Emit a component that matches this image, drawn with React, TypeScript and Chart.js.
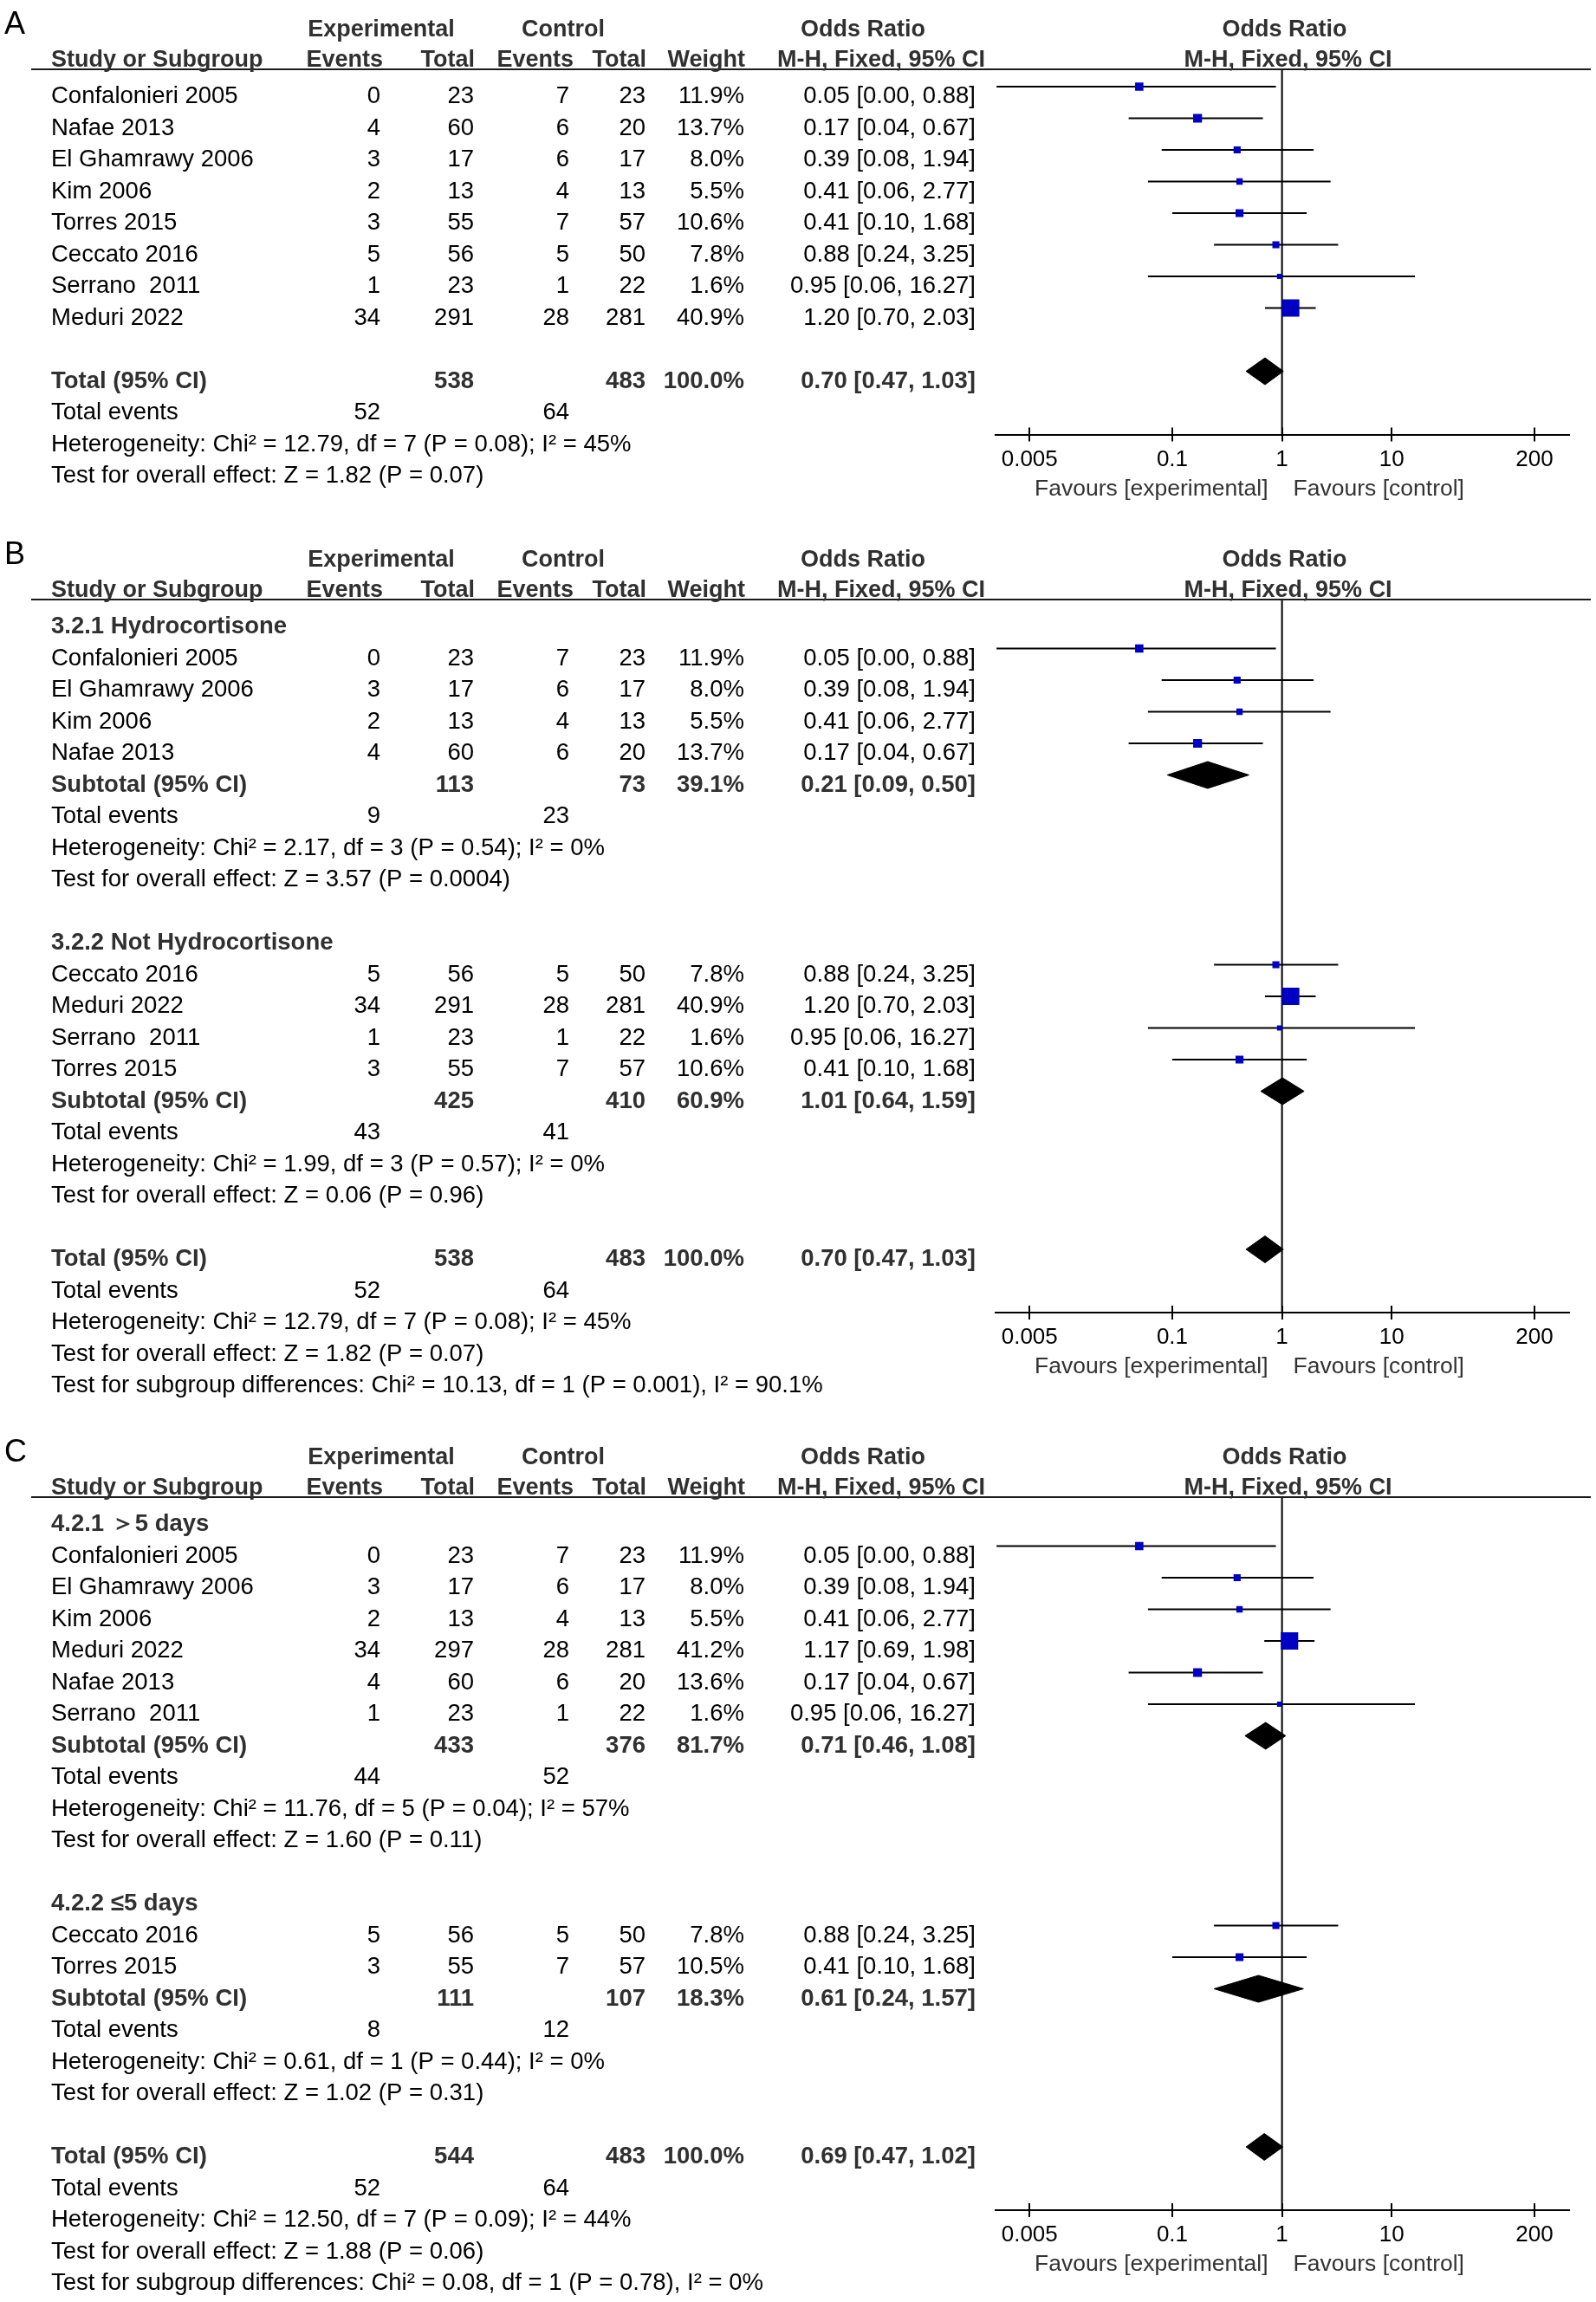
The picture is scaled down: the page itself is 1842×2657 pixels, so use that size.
import React, { useEffect, useRef } from 'react';
import { Chart, registerables } from 'chart.js';
Chart.register(...registerables);

// ---------------- shared axis ----------------
const X_TICKS = [0.005, 0.1, 1, 10, 200];
const X_MIN = 0.002427;
const X_MAX = 412;
const FAVOURS = ['Favours [experimental]', 'Favours [control]'];

// ---------------- Panel A ----------------
const A_STUDY = ['Confalonieri 2005', 'Nafae 2013', 'El Ghamrawy 2006', 'Kim 2006', 'Torres 2015', 'Ceccato 2016', 'Serrano  2011', 'Meduri 2022'];
const A_EXP_EVENTS = [0, 4, 3, 2, 3, 5, 1, 34];
const A_EXP_TOTAL = [23, 60, 17, 13, 55, 56, 23, 291];
const A_CTL_EVENTS = [7, 6, 6, 4, 7, 5, 1, 28];
const A_CTL_TOTAL = [23, 20, 17, 13, 57, 50, 22, 281];
const A_WEIGHT = [11.9, 13.7, 8.0, 5.5, 10.6, 7.8, 1.6, 40.9];
const A_OR = [0.05, 0.17, 0.39, 0.41, 0.41, 0.88, 0.95, 1.2];
const A_LO = [0.0025, 0.04, 0.08, 0.06, 0.1, 0.24, 0.06, 0.7];
const A_HI = [0.88, 0.67, 1.94, 2.77, 1.68, 3.25, 16.27, 2.03];
const A_TOTAL_N = [538, 483];
const A_TOTAL_CI = [0.7, 0.47, 1.03];
const A_TOTAL_EVENTS = [52, 64];
const A_NOTES = ['Heterogeneity: Chi² = 12.79, df = 7 (P = 0.08); I² = 45%', 'Test for overall effect: Z = 1.82 (P = 0.07)'];

// ---------------- Panel B ----------------
const B_GROUP = ['3.2.1 Hydrocortisone', '3.2.2 Not Hydrocortisone'];
const B_STUDY = [['Confalonieri 2005', 'El Ghamrawy 2006', 'Kim 2006', 'Nafae 2013'], ['Ceccato 2016', 'Meduri 2022', 'Serrano  2011', 'Torres 2015']];
const B_EXP_EVENTS = [[0, 3, 2, 4], [5, 34, 1, 3]];
const B_EXP_TOTAL = [[23, 17, 13, 60], [56, 291, 23, 55]];
const B_CTL_EVENTS = [[7, 6, 4, 6], [5, 28, 1, 7]];
const B_CTL_TOTAL = [[23, 17, 13, 20], [50, 281, 22, 57]];
const B_WEIGHT = [[11.9, 8.0, 5.5, 13.7], [7.8, 40.9, 1.6, 10.6]];
const B_OR = [[0.05, 0.39, 0.41, 0.17], [0.88, 1.2, 0.95, 0.41]];
const B_LO = [[0.0025, 0.08, 0.06, 0.04], [0.24, 0.7, 0.06, 0.1]];
const B_HI = [[0.88, 1.94, 2.77, 0.67], [3.25, 2.03, 16.27, 1.68]];
const B_SUB_N = [[113, 73], [425, 410]];
const B_SUB_WEIGHT = [39.1, 60.9];
const B_SUB_CI = [[0.21, 0.09, 0.5], [1.01, 0.64, 1.59]];
const B_SUB_EVENTS = [[9, 23], [43, 41]];
const B_SUB_NOTES = [
  ['Heterogeneity: Chi² = 2.17, df = 3 (P = 0.54); I² = 0%', 'Test for overall effect: Z = 3.57 (P = 0.0004)'],
  ['Heterogeneity: Chi² = 1.99, df = 3 (P = 0.57); I² = 0%', 'Test for overall effect: Z = 0.06 (P = 0.96)'],
];
const B_TOTAL_N = [538, 483];
const B_TOTAL_CI = [0.7, 0.47, 1.03];
const B_TOTAL_EVENTS = [52, 64];
const B_NOTES = ['Heterogeneity: Chi² = 12.79, df = 7 (P = 0.08); I² = 45%', 'Test for overall effect: Z = 1.82 (P = 0.07)', 'Test for subgroup differences: Chi² = 10.13, df = 1 (P = 0.001), I² = 90.1%'];

// ---------------- Panel C ----------------
const C_GROUP = ['4.2.1 ＞5 days', '4.2.2 ≤5 days'];
const C_STUDY = [['Confalonieri 2005', 'El Ghamrawy 2006', 'Kim 2006', 'Meduri 2022', 'Nafae 2013', 'Serrano  2011'], ['Ceccato 2016', 'Torres 2015']];
const C_EXP_EVENTS = [[0, 3, 2, 34, 4, 1], [5, 3]];
const C_EXP_TOTAL = [[23, 17, 13, 297, 60, 23], [56, 55]];
const C_CTL_EVENTS = [[7, 6, 4, 28, 6, 1], [5, 7]];
const C_CTL_TOTAL = [[23, 17, 13, 281, 20, 22], [50, 57]];
const C_WEIGHT = [[11.9, 8.0, 5.5, 41.2, 13.6, 1.6], [7.8, 10.5]];
const C_OR = [[0.05, 0.39, 0.41, 1.17, 0.17, 0.95], [0.88, 0.41]];
const C_LO = [[0.0025, 0.08, 0.06, 0.69, 0.04, 0.06], [0.24, 0.1]];
const C_HI = [[0.88, 1.94, 2.77, 1.98, 0.67, 16.27], [3.25, 1.68]];
const C_SUB_N = [[433, 376], [111, 107]];
const C_SUB_WEIGHT = [81.7, 18.3];
const C_SUB_CI = [[0.71, 0.46, 1.08], [0.61, 0.24, 1.57]];
const C_SUB_EVENTS = [[44, 52], [8, 12]];
const C_SUB_NOTES = [
  ['Heterogeneity: Chi² = 11.76, df = 5 (P = 0.04); I² = 57%', 'Test for overall effect: Z = 1.60 (P = 0.11)'],
  ['Heterogeneity: Chi² = 0.61, df = 1 (P = 0.44); I² = 0%', 'Test for overall effect: Z = 1.02 (P = 0.31)'],
];
const C_TOTAL_N = [544, 483];
const C_TOTAL_CI = [0.69, 0.47, 1.02];
const C_TOTAL_EVENTS = [52, 64];
const C_NOTES = ['Heterogeneity: Chi² = 12.50, df = 7 (P = 0.09); I² = 44%', 'Test for overall effect: Z = 1.88 (P = 0.06)', 'Test for subgroup differences: Chi² = 0.08, df = 1 (P = 0.78), I² = 0%'];

// ---------------- layout / style ----------------
const FONT = '"Liberation Sans", Arial, Helvetica, sans-serif';
const FS = 27.5;
const BOLD_COLOR = '#303030';
const BLUE = '#0000c4';
const PAGE_W = 1842;
const ROW_PX = 36.5;
const HEADER_Y = 80;
const FIRST_ROW_Y = 100;
const Y_MIN = (HEADER_Y - FIRST_ROW_Y) / ROW_PX;
const X_AXIS_H = 60;
const PLOT_LEFT = 1148.5;
const PLOT_RIGHT = 1810.7;
const DIAMOND_H = 0.425;

type Row = {
  kind: 'heading' | 'study' | 'summary' | 'events' | 'note' | 'blank';
  label?: string;
  ee?: number; et?: number; ce?: number; ct?: number; w?: number;
  or?: number; lo?: number; hi?: number;
};

function studyRows(names: string[], ee: number[], et: number[], ce: number[], ct: number[], w: number[], or: number[], lo: number[], hi: number[]): Row[] {
  return names.map((n, i) => ({ kind: 'study', label: n, ee: ee[i], et: et[i], ce: ce[i], ct: ct[i], w: w[i], or: or[i], lo: lo[i], hi: hi[i] }));
}

function summaryRow(label: string, n: number[], w: number, ci: number[]): Row {
  return { kind: 'summary', label, et: n[0], ct: n[1], w, or: ci[0], lo: ci[1], hi: ci[2] };
}

function buildA(): Row[] {
  return [
    ...studyRows(A_STUDY, A_EXP_EVENTS, A_EXP_TOTAL, A_CTL_EVENTS, A_CTL_TOTAL, A_WEIGHT, A_OR, A_LO, A_HI),
    { kind: 'blank' },
    summaryRow('Total (95% CI)', A_TOTAL_N, 100, A_TOTAL_CI),
    { kind: 'events', ee: A_TOTAL_EVENTS[0], ce: A_TOTAL_EVENTS[1] },
    ...A_NOTES.map((t) => ({ kind: 'note', label: t } as Row)),
  ];
}

function buildGrouped(groups: string[], study: string[][], ee: number[][], et: number[][], ce: number[][], ct: number[][], w: number[][], or: number[][], lo: number[][], hi: number[][],
  subN: number[][], subW: number[], subCI: number[][], subEv: number[][], subNotes: string[][], totN: number[], totCI: number[], totEv: number[], notes: string[]): Row[] {
  const rows: Row[] = [];
  groups.forEach((g, gi) => {
    rows.push({ kind: 'heading', label: g });
    rows.push(...studyRows(study[gi], ee[gi], et[gi], ce[gi], ct[gi], w[gi], or[gi], lo[gi], hi[gi]));
    rows.push(summaryRow('Subtotal (95% CI)', subN[gi], subW[gi], subCI[gi]));
    rows.push({ kind: 'events', ee: subEv[gi][0], ce: subEv[gi][1] });
    subNotes[gi].forEach((t) => rows.push({ kind: 'note', label: t }));
    rows.push({ kind: 'blank' });
  });
  rows.push(summaryRow('Total (95% CI)', totN, 100, totCI));
  rows.push({ kind: 'events', ee: totEv[0], ce: totEv[1] });
  notes.forEach((t) => rows.push({ kind: 'note', label: t }));
  return rows;
}

type Panel = { letter: string; height: number; yMax: number; rows: Row[] };

const PANELS: Panel[] = [
  { letter: 'A', height: 612, yMax: 11, rows: buildA() },
  {
    letter: 'B', height: 1036, yMax: 22,
    rows: buildGrouped(B_GROUP, B_STUDY, B_EXP_EVENTS, B_EXP_TOTAL, B_CTL_EVENTS, B_CTL_TOTAL, B_WEIGHT, B_OR, B_LO, B_HI,
      B_SUB_N, B_SUB_WEIGHT, B_SUB_CI, B_SUB_EVENTS, B_SUB_NOTES, B_TOTAL_N, B_TOTAL_CI, B_TOTAL_EVENTS, B_NOTES),
  },
  {
    letter: 'C', height: 1009, yMax: 22,
    rows: buildGrouped(C_GROUP, C_STUDY, C_EXP_EVENTS, C_EXP_TOTAL, C_CTL_EVENTS, C_CTL_TOTAL, C_WEIGHT, C_OR, C_LO, C_HI,
      C_SUB_N, C_SUB_WEIGHT, C_SUB_CI, C_SUB_EVENTS, C_SUB_NOTES, C_TOTAL_N, C_TOTAL_CI, C_TOTAL_EVENTS, C_NOTES),
  },
];

const f2 = (v: number) => v.toFixed(2);
const ciText = (r: Row) => `${f2(r.or!)} [${f2(r.lo!)}, ${f2(r.hi!)}]`;
const squareSide = (w: number) => 5.3 + 0.36 * w;

// column anchors (px)
const COL = { study: 59, ee: 439, et: 547, ce: 657, ct: 745, w: 859, ci: 1126 };

function makePlugin(panel: Panel) {
  return {
    id: 'forestTable' + panel.letter,
    afterDraw(chart: any) {
      const ctx: CanvasRenderingContext2D = chart.ctx;
      const xs = chart.scales.x;
      const ys = chart.scales.y;
      const area = chart.chartArea;
      const one = xs.getPixelForValue(1);
      ctx.save();
      ctx.textBaseline = 'alphabetic';
      const txt = (s: string, x: number, y: number, align: CanvasTextAlign, bold = false, size = FS, color?: string) => {
        ctx.font = `${bold ? 'bold ' : ''}${size}px ${FONT}`;
        ctx.fillStyle = color || (bold ? BOLD_COLOR : '#000');
        ctx.textAlign = align;
        ctx.fillText(s, x, y);
      };

      // header rule
      ctx.strokeStyle = '#1a1a1a';
      ctx.lineWidth = 2;
      ctx.beginPath();
      ctx.moveTo(36, area.top);
      ctx.lineTo(1836, area.top);
      ctx.stroke();

      // upper half of axis tick marks
      ctx.strokeStyle = '#000';
      const axisY = area.bottom;
      xs.ticks.forEach((t: any) => {
        const px = Math.round(xs.getPixelForValue(t.value));
        ctx.beginPath();
        ctx.moveTo(px, axisY - 8);
        ctx.lineTo(px, axisY);
        ctx.stroke();
      });

      // panel letter
      txt(panel.letter, 5, 39, 'left', false, 36, '#000');

      // headers
      txt('Experimental', 440, 42, 'center', true, 27);
      txt('Control', 650, 42, 'center', true, 27);
      txt('Odds Ratio', 996, 42, 'center', true, 27);
      txt('Odds Ratio', one + 3, 42, 'center', true, 27);
      txt('Study or Subgroup', COL.study, 77, 'left', true, 27);
      txt('Events', 442, 77, 'right', true, 27);
      txt('Total', 548, 77, 'right', true, 27);
      txt('Events', 662, 77, 'right', true, 27);
      txt('Total', 746, 77, 'right', true, 27);
      txt('Weight', 860, 77, 'right', true, 27);
      txt('M-H, Fixed, 95% CI', 1017, 77, 'center', true, 27);
      txt('M-H, Fixed, 95% CI', one + 7, 77, 'center', true, 27);

      // rows
      panel.rows.forEach((r, i) => {
        const y = ys.getPixelForValue(i) + 19;
        if (r.kind === 'heading') {
          txt(r.label!, COL.study, y, 'left', true);
        } else if (r.kind === 'study') {
          txt(r.label!, COL.study, y, 'left');
          txt(String(r.ee), COL.ee, y, 'right');
          txt(String(r.et), COL.et, y, 'right');
          txt(String(r.ce), COL.ce, y, 'right');
          txt(String(r.ct), COL.ct, y, 'right');
          txt(r.w!.toFixed(1) + '%', COL.w, y, 'right');
          txt(ciText(r), COL.ci, y, 'right');
        } else if (r.kind === 'summary') {
          txt(r.label!, COL.study, y, 'left', true);
          txt(String(r.et), COL.et, y, 'right', true);
          txt(String(r.ct), COL.ct, y, 'right', true);
          txt(r.w!.toFixed(1) + '%', COL.w, y, 'right', true);
          txt(ciText(r), COL.ci, y, 'right', true);
        } else if (r.kind === 'events') {
          txt('Total events', COL.study, y, 'left');
          txt(String(r.ee), COL.ee, y, 'right');
          txt(String(r.ce), COL.ce, y, 'right');
        } else if (r.kind === 'note') {
          txt(r.label!, COL.study, y, 'left');
        }
      });

      // favours labels
      txt(FAVOURS[0], one - 16, axisY + 70, 'right', false, 26.5, '#333');
      txt(FAVOURS[1], one + 13, axisY + 70, 'left', false, 26.5, '#333');
      ctx.restore();
    },
  };
}

function makeConfig(panel: Panel): any {
  const rows = panel.rows;
  const squares: { x: number; y: number }[] = [];
  const radii: number[] = [];
  rows.forEach((r, i) => {
    if (r.kind === 'study') {
      squares.push({ x: r.or!, y: i });
      radii.push(squareSide(r.w!) / Math.SQRT2);
    }
  });
  const datasets: any[] = [];
  datasets.push({
    label: 'studies', data: squares, showLine: false, pointStyle: 'rect', pointRadius: radii,
    pointHoverRadius: radii, backgroundColor: BLUE, borderColor: BLUE, borderWidth: 0, pointBorderWidth: 0, fill: false,
  });
  rows.forEach((r, i) => {
    if (r.kind === 'study') {
      datasets.push({
        label: 'ci-' + i, data: [{ x: r.lo, y: i }, { x: r.hi, y: i }],
        borderColor: '#000', borderWidth: 2, pointRadius: 0, fill: false,
      });
    }
  });
  rows.forEach((r, i) => {
    if (r.kind === 'summary') {
      datasets.push({
        label: 'dia-up-' + i, data: [{ x: r.lo, y: i }, { x: r.or, y: i - DIAMOND_H }, { x: r.hi, y: i }],
        borderColor: '#000', borderWidth: 1, backgroundColor: '#000', pointRadius: 0, fill: '+1',
      });
      datasets.push({
        label: 'dia-low-' + i, data: [{ x: r.lo, y: i }, { x: r.or, y: i + DIAMOND_H }, { x: r.hi, y: i }],
        borderColor: '#000', borderWidth: 1, backgroundColor: '#000', pointRadius: 0, fill: false,
      });
    }
  });
  datasets.push({
    label: 'null-line', data: [{ x: 1, y: Y_MIN }, { x: 1, y: panel.yMax }],
    borderColor: '#000', borderWidth: 2, pointRadius: 0, fill: false,
  });

  const axisY = FIRST_ROW_Y + panel.yMax * ROW_PX;
  return {
    type: 'line',
    data: { datasets },
    options: {
      animation: false,
      responsive: false,
      devicePixelRatio: 1,
      events: [],
      layout: {
        padding: {
          left: PLOT_LEFT, right: PAGE_W - PLOT_RIGHT, top: HEADER_Y,
          bottom: panel.height - axisY - X_AXIS_H,
        },
      },
      plugins: { legend: { display: false }, tooltip: { enabled: false }, title: { display: false } },
      elements: { line: { tension: 0 } },
      scales: {
        x: {
          type: 'logarithmic', min: X_MIN, max: X_MAX, bounds: 'data', position: 'bottom',
          afterBuildTicks: (s: any) => { s.ticks = X_TICKS.map((v) => ({ value: v })); },
          afterFit: (s: any) => { s.height = X_AXIS_H; },
          grid: { drawOnChartArea: false, drawTicks: true, tickLength: 8, color: '#000', lineWidth: 2 },
          border: { display: true, color: '#000', width: 2 },
          ticks: {
            autoSkip: false, maxRotation: 0, minRotation: 0, padding: 8, color: '#000',
            font: { family: FONT, size: 26, lineHeight: 1 },
            callback: (v: any) => String(v),
          },
        },
        y: { type: 'linear', reverse: true, min: Y_MIN, max: panel.yMax, bounds: 'data', display: false },
      },
    },
    plugins: [makePlugin(panel)],
  };
}

function ForestPanel({ panel }: { panel: Panel }) {
  const ref = useRef<HTMLCanvasElement>(null);
  useEffect(() => {
    const chart = new Chart(ref.current as HTMLCanvasElement, makeConfig(panel));
    return () => chart.destroy();
  }, [panel]);
  return (
    <canvas
      ref={ref}
      width={PAGE_W}
      height={panel.height}
      style={{ display: 'block', width: PAGE_W, height: panel.height }}
    />
  );
}

export default function App() {
  return (
    <div style={{ position: 'absolute', left: 0, top: 0, width: PAGE_W, height: 2657, background: '#fff' }}>
      {PANELS.map((p) => (
        <ForestPanel key={p.letter} panel={p} />
      ))}
    </div>
  );
}
